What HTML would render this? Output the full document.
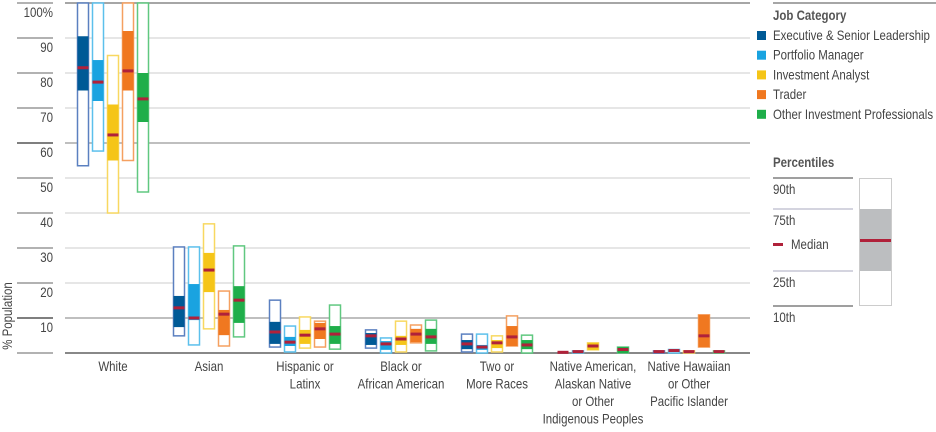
<!DOCTYPE html>
<html><head><meta charset="utf-8">
<style>
body{margin:0;background:#fff;}
svg{display:block;font-family:"Liberation Sans Narrow","Liberation Sans",sans-serif;}
</style></head>
<body>
<svg id="chart" width="936" height="432" viewBox="0 0 936 432" xmlns="http://www.w3.org/2000/svg"></svg>
<script>
const categories=[["White"],["Asian"],["Hispanic or","Latinx"],["Black or","African American"],["Two or","More Races"],["Native American,","Alaskan Native","or Other","Indigenous Peoples"],["Native Hawaiian","or Other","Pacific Islander"]];
const seriesNames=["Executive & Senior Leadership","Portfolio Manager","Investment Analyst","Trader","Other Investment Professionals"];
const yTicks=[0,10,20,30,40,50,60,70,80,90,100];
const yTickLabels=["","10","20","30","40","50","60","70","80","90","100%"];
// per series: [p10,p25,median,p75,p90] per category
const execVals=[[53.5,75,81.5,90.5,100],[4.9,7.4,12.9,16.3,30.3],[1.7,2.6,6,8.9,15.1],[1.4,2.3,4.9,5.7,6.6],[0.3,1.1,2.6,3.7,5.4],[0,0,0.2,0.3,0.3],[0,0,0.4,0.6,0.6]];
const pmVals=[[57.7,72,77.4,83.7,100],[2.3,9.4,10,19.7,30.3],[0.3,2,3.1,4.6,7.7],[0,0.9,2.6,3.4,4.3],[0,0.9,1.7,2.3,5.4],[0,0,0.4,0.6,0.6],[0,0.3,0.7,1,1]];
const analystVals=[[40,55,62.3,71,85],[6.9,17.4,23.7,28.6,36.9],[1.4,2.6,5.1,6.6,10.3],[0.3,2.3,4,4.9,9.1],[0.3,1.4,2.9,3.7,4.9],[0.9,0.9,2,2.9,2.9],[0,0,0.4,0.6,0.6]];
const traderVals=[[55,75,80.6,92,100],[2,5.1,11.1,12.3,17.7],[1.7,4,6.9,8.6,9.1],[2.9,3.1,5.4,6.9,8],[2,2,4.6,7.7,10.6],[0,0,0,0,0],[1.7,1.7,4.9,10.9,10.9]];
const otherVals=[[46,66,72.6,80,100],[4.6,8.6,15.1,19.1,30.6],[1.1,2.6,5.4,7.7,13.7],[0.6,2.6,4.6,6.9,9.4],[0,1.1,2.3,3.7,5.1],[0,0,1,1.7,1.7],[0,0,0.4,0.6,0.6]];
const allSeries=[execVals,pmVals,analystVals,traderVals,otherVals];
const fills=["#005a96","#1aa3e0","#f5c518","#f07820","#1fae4a"];
const strokes=["#5b80c0","#5cc0ec","#f8d860","#f5a060","#60c880"];
const NS="http://www.w3.org/2000/svg";
const svg=document.getElementById('chart');
const SX=0.82;
function el(t,a,p){const e=document.createElementNS(NS,t);for(const k in a)e.setAttribute(k,a[k]);(p||svg).appendChild(e);return e;}
function txt(x,y,a,p){a=Object.assign({x:0,y:0,transform:'translate('+x+','+y+') scale('+SX+',1)'},a);return el('text',a,p);}
const y0=353,y100=3;
function yS(v){return y0-(y0-y100)*v/100;}
const gx0=113,gstep=96,bstep=15,bw=11;
function xS(ci,si){return gx0+ci*gstep+(si-2)*bstep;}
// grid
yTicks.forEach((t,i)=>{
  const y=yS(t);
  const g=el('line',{x1:65,x2:750,y1:y,y2:y,stroke:(t==0||t==100)?'#888':(t==10||t==60)?'#aaa':'#ddd','stroke-width':t==0?2:1.5});
  
  const tk=el('line',{x1:17,x2:53,y1:y,y2:y,stroke:t==60||t==10?'#555':'#999','stroke-width':1.5});
  
  if(yTickLabels[i]){const tx=txt(53,y+14,{'text-anchor':'end','font-size':14,fill:'#444'});tx.textContent=yTickLabels[i];
  }
});
const yt=el('text',{x:0,y:0,transform:'translate(12,316) rotate(-90) scale('+SX+',1)','text-anchor':'middle','font-size':14,fill:'#444'});
yt.textContent='% Population';
// boxes
allSeries.forEach((ser,si)=>{
  ser.forEach((v,ci)=>{
    const x=xS(ci,si)-bw/2;
    if(v[4]-v[0]>0.5){
      const o=el('rect',{x:x,y:yS(v[4]),width:bw,height:yS(v[0])-yS(v[4]),fill:'#fff',stroke:strokes[si],'stroke-width':1.5});
      
    }
    if(v[3]-v[1]>0){
      const f=el('rect',{x:x,y:yS(v[3]),width:bw,height:yS(v[1])-yS(v[3]),fill:fills[si]});
      
    }
    if(v[4]>0){
      const m=el('rect',{x:x,y:yS(v[2])-1.5,width:bw,height:3,fill:'#b0213a'});
      
    }
  });
});
// x labels
categories.forEach((lines,ci)=>{
  const t=txt(xS(ci,2),371,{'text-anchor':'middle','font-size':14,fill:'#444'});
  
  lines.forEach((l,li)=>{const s=el('tspan',{x:0,dy:li?17.5:0},t);s.textContent=l;});
});
// legend
el('line',{x1:773,x2:936,y1:3,y2:3,stroke:'#888','stroke-width':1.5});
const lt=txt(773,20,{'font-size':14,'font-weight':'bold',fill:'#555'});lt.textContent='Job Category';

seriesNames.forEach((n,i)=>{
  const y=35+i*19.7;
  const g=el('g',{});
  el('rect',{x:757,y:y-4,width:9,height:9,fill:fills[i]},g);
  const t=txt(773,y+5,{'font-size':14,fill:'#444'},g);t.textContent=n;
});
const pt=txt(773,167,{'font-size':14,'font-weight':'bold',fill:'#555'});pt.textContent='Percentiles';

const pl=[[178,'90th','#666'],[209,'75th','#bbc'],[271,'25th','#bbc'],[306,'10th','#666']];
pl.forEach(p=>{el('line',{x1:773,x2:853,y1:p[0],y2:p[0],stroke:p[2],'stroke-width':1.2});
  const t=txt(773,p[0]+16,{'font-size':14,fill:'#444'});t.textContent=p[1];
  });
const pb=el('rect',{x:859.5,y:178.5,width:32,height:127,fill:'#fff',stroke:'#ccc','stroke-width':1});

el('rect',{x:860,y:209,width:31,height:62,fill:'#bcbec0'});
el('rect',{x:860,y:239,width:31,height:3,fill:'#b0213a'});
el('rect',{x:773,y:243,width:10,height:3,fill:'#b0213a'});
const mt=txt(791,249,{'font-size':14,fill:'#444'});mt.textContent='Median';

</script>
</body></html>
